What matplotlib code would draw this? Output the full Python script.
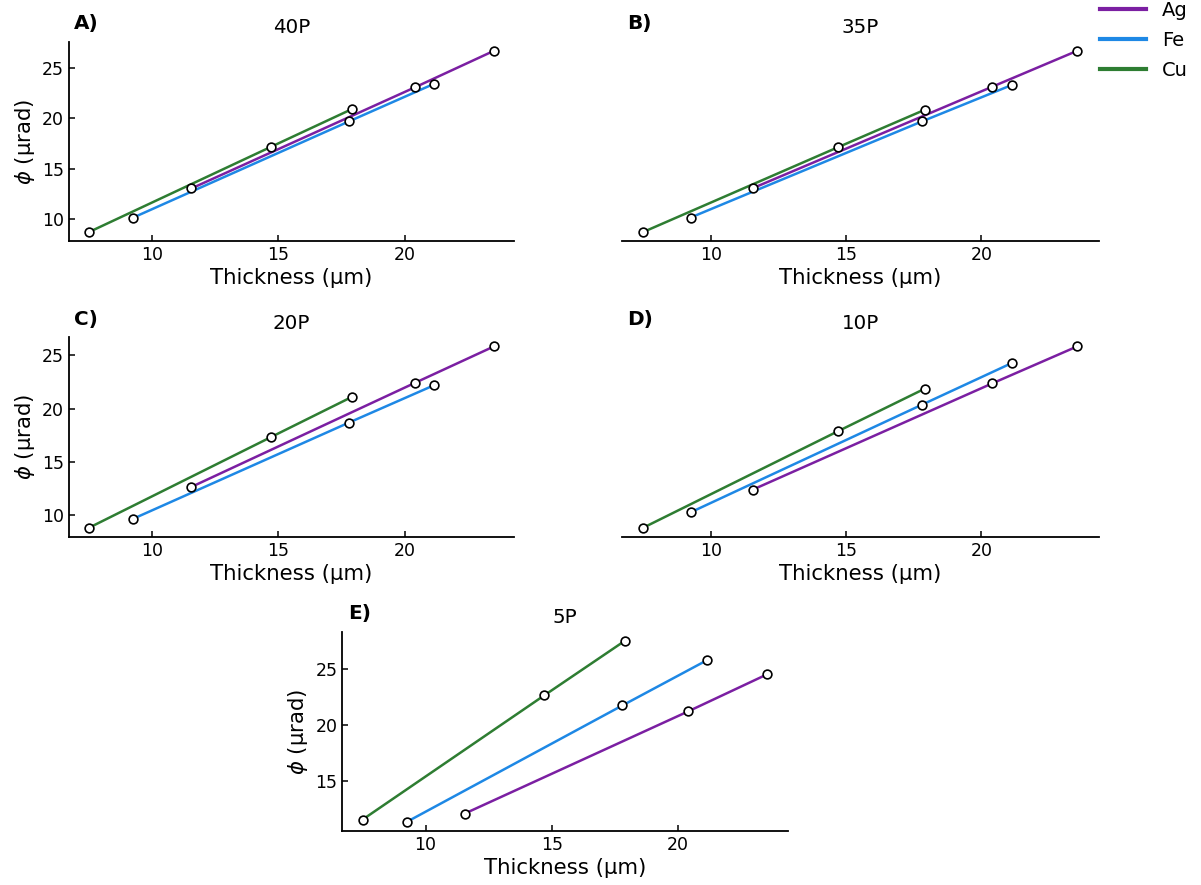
import matplotlib
matplotlib.use("Agg")
import matplotlib.pyplot as plt
import matplotlib.ticker as mticker
from matplotlib.lines import Line2D

# thickness (um) of each foil, same in every panel
thick_ag = [11.55, 20.4, 23.55]
thick_fe = [9.25, 17.8, 21.15]
thick_cu = [7.5, 14.7, 17.9]

panel_letters = ["A)", "B)", "C)", "D)", "E)"]
panel_titles = ["40P", "35P", "20P", "10P", "5P"]

# phi (urad)
phi_ag = [
    [13.05, 23.06, 26.7],
    [13.08, 23.13, 26.7],
    [12.66, 22.41, 25.85],
    [12.41, 22.37, 25.85],
    [12.03, 21.2, 24.55],
]
phi_fe = [
    [10.17, 19.7, 23.4],
    [10.17, 19.69, 23.33],
    [9.68, 18.7, 22.18],
    [10.28, 20.37, 24.31],
    [11.28, 21.74, 25.8],
]
phi_cu = [
    [8.74, 17.17, 20.9],
    [8.74, 17.14, 20.84],
    [8.84, 17.33, 21.09],
    [8.84, 17.89, 21.87],
    [11.49, 22.64, 27.55],
]

metals = ["Ag", "Fe", "Cu"]
colors = {"Ag": "#7b1fa2", "Fe": "#1e88e5", "Cu": "#2e7d32"}

W, H = 1201, 885
# axes rectangles in pixels: left, top, right, bottom
rects = [
    (69, 41.7, 514.3, 241),
    (621.7, 41.7, 1099, 241),
    (69, 337.3, 514.3, 536.7),
    (621.7, 337.3, 1099, 536.7),
    (342.3, 631.7, 787.7, 831),
]


def px_rect(r):
    l, t, rr, b = r
    return [l / W, 1 - b / H, (rr - l) / W, (b - t) / H]


def style_axis(ax, show_y):
    ax.spines["top"].set_visible(False)
    ax.spines["right"].set_visible(False)
    for s in ("left", "bottom"):
        ax.spines[s].set_linewidth(1.3)
    ax.xaxis.set_major_locator(mticker.MultipleLocator(5))
    ax.yaxis.set_major_locator(mticker.MultipleLocator(5))
    ax.tick_params(direction="in", length=4.5, width=1.1, labelsize=12.5)
    ax.set_xlabel("Thickness (μm)", fontsize=15.3, labelpad=3)
    if show_y:
        ax.set_ylabel(r"$\phi$ (μrad)", fontsize=15.3)
    else:
        ax.spines["left"].set_visible(False)
        ax.tick_params(axis="y", left=False, labelleft=False)


plt.rcParams["font.family"] = "DejaVu Sans"
fig = plt.figure(figsize=(W / 100, H / 100), dpi=100)

axes = []
for i, r in enumerate(rects):
    share = None
    if i == 1:
        share = axes[0]
    elif i == 3:
        share = axes[2]
    ax = fig.add_axes(px_rect(r), sharey=share)
    axes.append(ax)

    series = {
        "Ag": (thick_ag, phi_ag[i]),
        "Fe": (thick_fe, phi_fe[i]),
        "Cu": (thick_cu, phi_cu[i]),
    }
    for m in metals:
        x, y = series[m]
        ax.plot(x, y, color=colors[m], lw=1.8, zorder=2)
    for m in metals:
        x, y = series[m]
        ax.plot(x, y, ls="none", marker="o", ms=6.3, mfc="white",
                mec="black", mew=1.2, zorder=3)

    ax.set_title(panel_titles[i], fontsize=14.3, pad=6)
    ax.text(0.012, 1.062, panel_letters[i], transform=ax.transAxes,
            fontsize=14.4, fontweight="bold", va="baseline", ha="left")
    style_axis(ax, show_y=i in (0, 2, 4))

handles = [Line2D([], [], color=colors[m], lw=3) for m in metals]
fig.legend(handles, metals, loc="upper left", frameon=False, fontsize=14,
           handlelength=2.4, bbox_to_anchor=(1092 / W, 1.0075),
           borderaxespad=0, labelspacing=0.55)

fig.savefig("out.png", dpi=100)
